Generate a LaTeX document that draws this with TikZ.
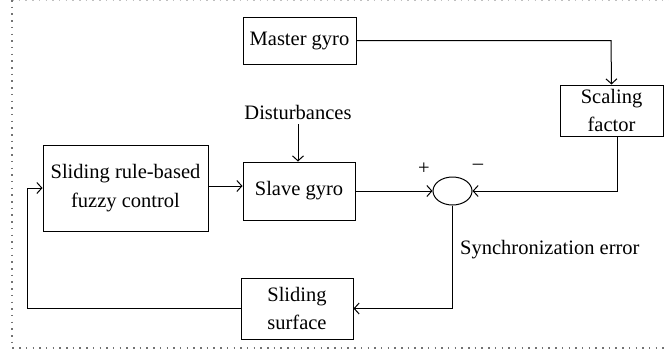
\documentclass[tikz,border=0pt]{standalone}
\usepackage{fontspec}
\setmainfont{Liberation Serif}
\usetikzlibrary{arrows.meta,shapes.geometric}
\begin{document}
\begin{tikzpicture}[x=1pt,y=-1pt,
  every node/.style={font=\fontsize{20.5}{28.5}\selectfont, inner sep=0pt},
  blk/.style={draw, line width=1pt, align=center},
  wire/.style={line width=1pt},
  arr/.style={wire, -{Straight Barb[length=5pt,width=11pt,line width=1pt]}},
  frame/.style={line width=1.3pt, dash pattern=on 1.5pt off 5.2pt, color=black!55}]
\useasboundingbox (0,0) rectangle (669,354);
% dotted outer frame (left and bottom dark, top faint)
\draw[frame, color=black!25] (12,0.8) -- (669,0.8);
\draw[frame] (12,0) -- (12,348) -- (669,348);

% blocks
\node[blk, minimum width=113pt, minimum height=47pt] (master) at (299.5,40.5) {Master gyro};
\node[blk, minimum width=103pt, minimum height=51pt] (scale) at (611.5,110.5) {Scaling\\factor};
\node[blk, minimum width=112pt, minimum height=58pt] (slave) at (299,191) {Slave gyro};
\node[blk, minimum width=165pt, minimum height=86pt] (fuzzy) at (125.5,188) {Sliding rule-based\\fuzzy control};
\node[blk, minimum width=112pt, minimum height=61pt] (surf) at (297,308.5) {Sliding\\surface};
\node[draw, ellipse, line width=1pt, minimum width=39pt, minimum height=28pt] (sum) at (452.5,191) {};

% labels
\node (dist) at (298,112) {Disturbances};
\node[anchor=west] (syncerr) at (460,250) {Synchronization error};
\node (plus) at (424,169) {+};
\node (minus) at (478,167) {\textendash};

% connectors
\coordinate (mcorner) at (611,40.5);
\draw[arr] (master.east) -- (mcorner) -- (scale.north);
\coordinate (sbot) at ([xshift=5.5pt]scale.south);
\coordinate (scorner) at (sbot |- sum.east);
\draw[arr] (sbot) -- (scorner) -- (sum.east);
\draw[arr] (slave.east) -- (sum.west);
\coordinate (dtop) at ([yshift=-5pt]dist.south);
\draw[arr] (dtop) -- (dtop |- slave.north);
\coordinate (fe) at (fuzzy.east |- 0,186);
\draw[arr] (fe) -- (slave.west |- fe);
\coordinate (ecorner) at (sum.south |- surf.east);
\draw[arr] (sum.south) -- (ecorner) -- (surf.east);
\coordinate (fbl) at (27,308.5);
\coordinate (fbu) at (27,188);
\draw[arr] (surf.west) -- (fbl) -- (fbu) -- (fuzzy.west);
\end{tikzpicture}
\end{document}
